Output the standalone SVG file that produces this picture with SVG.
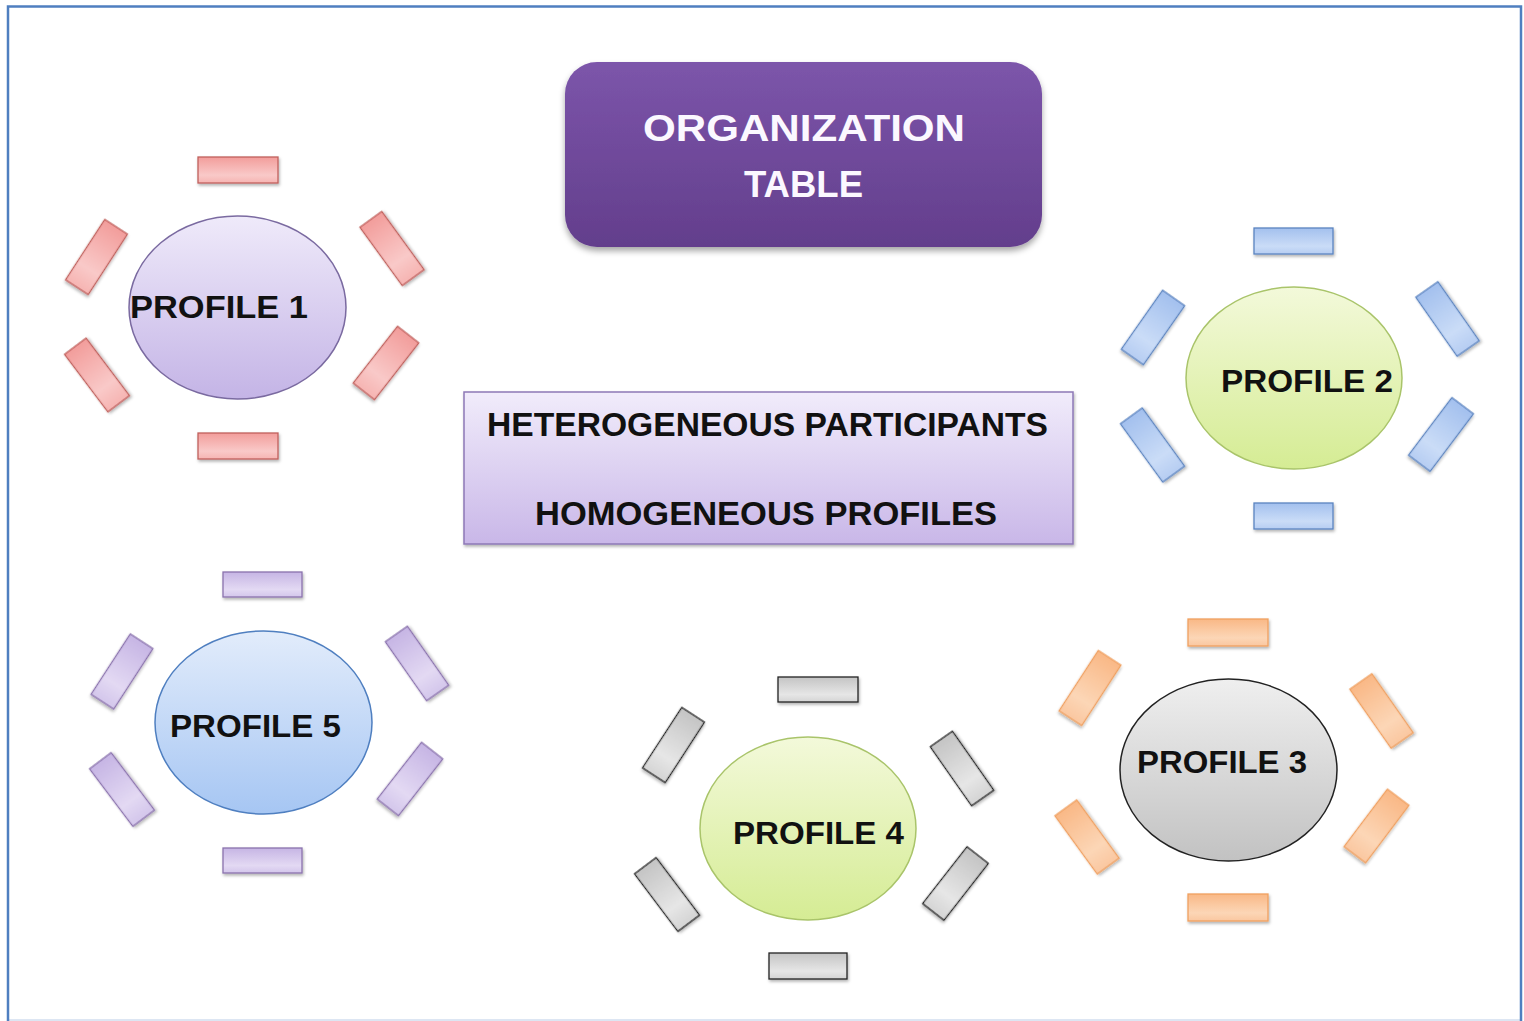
<svg xmlns="http://www.w3.org/2000/svg" width="1524" height="1021" viewBox="0 0 1524 1021">
<defs>
  <linearGradient id="gRed" x1="0" y1="0" x2="0" y2="1"><stop offset="0" stop-color="#f29d9b"/><stop offset="0.7" stop-color="#f9c9c8"/><stop offset="1" stop-color="#f6b4b2"/></linearGradient>
  <linearGradient id="gBlue" x1="0" y1="0" x2="0" y2="1"><stop offset="0" stop-color="#a3c0ee"/><stop offset="0.7" stop-color="#cadcf7"/><stop offset="1" stop-color="#b6cdf2"/></linearGradient>
  <linearGradient id="gPurple" x1="0" y1="0" x2="0" y2="1"><stop offset="0" stop-color="#c6b5e4"/><stop offset="0.7" stop-color="#e3d9f3"/><stop offset="1" stop-color="#d3c6eb"/></linearGradient>
  <linearGradient id="gGrey" x1="0" y1="0" x2="0" y2="1"><stop offset="0" stop-color="#c4c4c4"/><stop offset="0.7" stop-color="#e6e6e6"/><stop offset="1" stop-color="#d4d4d4"/></linearGradient>
  <linearGradient id="gOrange" x1="0" y1="0" x2="0" y2="1"><stop offset="0" stop-color="#f9b886"/><stop offset="0.7" stop-color="#fcd6b6"/><stop offset="1" stop-color="#fac7a0"/></linearGradient>
  <linearGradient id="eLav" x1="0" y1="0" x2="0" y2="1"><stop offset="0" stop-color="#efeafa"/><stop offset="1" stop-color="#c4b4e6"/></linearGradient>
  <linearGradient id="eGreen" x1="0" y1="0" x2="0" y2="1"><stop offset="0" stop-color="#f3f9da"/><stop offset="1" stop-color="#d5ec94"/></linearGradient>
  <linearGradient id="eBlue" x1="0" y1="0" x2="0" y2="1"><stop offset="0" stop-color="#e2ecfb"/><stop offset="1" stop-color="#a6c6f3"/></linearGradient>
  <linearGradient id="eGrey" x1="0" y1="0" x2="0" y2="1"><stop offset="0" stop-color="#efefef"/><stop offset="1" stop-color="#c2c2c2"/></linearGradient>
  <linearGradient id="gTitle" x1="0" y1="0" x2="0" y2="1"><stop offset="0" stop-color="#7c55aa"/><stop offset="1" stop-color="#633e8c"/></linearGradient>
  <linearGradient id="gMid" x1="0" y1="0" x2="0" y2="1"><stop offset="0" stop-color="#f1ecfb"/><stop offset="1" stop-color="#c9b7e8"/></linearGradient>
  <filter id="sh" x="-20%" y="-20%" width="140%" height="150%"><feDropShadow dx="1" dy="2" stdDeviation="1.5" flood-color="#000" flood-opacity="0.3"/></filter>
  <filter id="shBig" x="-10%" y="-10%" width="120%" height="130%"><feDropShadow dx="0" dy="4" stdDeviation="3" flood-color="#000" flood-opacity="0.35"/></filter>
</defs>
<style>
  .seat { stroke-width: 1.3; filter: url(#sh); }
  .red { fill: url(#gRed); stroke: #c0605c; }
  .blue { fill: url(#gBlue); stroke: #5b84c0; }
  .purple { fill: url(#gPurple); stroke: #8a72ad; }
  .grey { fill: url(#gGrey); stroke: #222; }
  .orange { fill: url(#gOrange); stroke: #f0a060; }
  .table { stroke-width: 1.5; }
  .lbl { font-family: "Liberation Sans", Arial, sans-serif; font-weight: bold; font-size: 31px; fill: #111; }
  .title { font-family: "Liberation Sans", Arial, sans-serif; font-weight: bold; font-size: 36px; fill: #fbf8ff; }
  .mid { font-family: "Liberation Sans", Arial, sans-serif; font-weight: bold; font-size: 33px; fill: #111; }
</style>
<rect x="0" y="0" width="1524" height="1021" fill="#ffffff"/>
<g id="frame">
  <line x1="8" y1="1020" x2="1521" y2="1020" stroke="#dde6f3" stroke-width="2"/>
  <path d="M8 1021 V6.5 H1521 V1021" fill="none" stroke="#4f7fc0" stroke-width="2.5"/>
</g>
<g id="connectors"></g>

<g id="title">
  <rect x="565" y="62" width="477" height="185" rx="32" fill="url(#gTitle)" filter="url(#shBig)"/>
  <text class="title" x="643" y="141" textLength="322" lengthAdjust="spacingAndGlyphs">ORGANIZATION</text>
  <text class="title" x="744" y="197" textLength="119" lengthAdjust="spacingAndGlyphs">TABLE</text>
</g>

<g id="center-box">
  <rect x="464" y="392" width="609" height="152" fill="url(#gMid)" stroke="#8d78b6" stroke-width="1.5" filter="url(#sh)"/>
  <text class="mid" x="487" y="436" textLength="561" lengthAdjust="spacingAndGlyphs">HETEROGENEOUS PARTICIPANTS</text>
  <text class="mid" x="535" y="525" textLength="462" lengthAdjust="spacingAndGlyphs">HOMOGENEOUS PROFILES</text>
</g>

<g id="profile1">
  <rect class="seat red" x="198" y="157" width="80" height="26"/>
  <rect class="seat red" x="198" y="433" width="80" height="26"/>
  <rect class="seat red" x="-13.5" y="-36" width="27" height="72" transform="translate(96.5,257) rotate(33)"/>
  <rect class="seat red" x="-13.5" y="-36" width="27" height="72" transform="translate(392,248.5) rotate(-36)"/>
  <rect class="seat red" x="-13.5" y="-36" width="27" height="72" transform="translate(97,375) rotate(-37)"/>
  <rect class="seat red" x="-13.5" y="-36" width="27" height="72" transform="translate(386,363) rotate(38)"/>
  <ellipse class="table" cx="237.5" cy="307.5" rx="108.5" ry="91.5" fill="url(#eLav)" stroke="#7a6aa0"/>
  <text class="lbl" x="130" y="318" textLength="178" lengthAdjust="spacingAndGlyphs">PROFILE 1</text>
</g>

<g id="profile2">
  <rect class="seat blue" x="1254" y="228" width="79" height="26"/>
  <rect class="seat blue" x="1254" y="503" width="79" height="26"/>
  <rect class="seat blue" x="-13.5" y="-36" width="27" height="72" transform="translate(1153,327.5) rotate(35)"/>
  <rect class="seat blue" x="-13.5" y="-36" width="27" height="72" transform="translate(1447.5,319) rotate(-35)"/>
  <rect class="seat blue" x="-13.5" y="-36" width="27" height="72" transform="translate(1152.5,445) rotate(-36)"/>
  <rect class="seat blue" x="-13.5" y="-36" width="27" height="72" transform="translate(1441,434.5) rotate(37)"/>
  <ellipse class="table" cx="1294" cy="378" rx="108" ry="91" fill="url(#eGreen)" stroke="#a9c46a"/>
  <text class="lbl" x="1221" y="392" textLength="172" lengthAdjust="spacingAndGlyphs">PROFILE 2</text>
</g>

<g id="profile3">
  <rect class="seat orange" x="1188" y="619" width="80" height="27"/>
  <rect class="seat orange" x="1188" y="894" width="80" height="27"/>
  <rect class="seat orange" x="-13.5" y="-36" width="27" height="72" transform="translate(1090,688) rotate(33)"/>
  <rect class="seat orange" x="-13.5" y="-36" width="27" height="72" transform="translate(1381.5,711) rotate(-35)"/>
  <rect class="seat orange" x="-13.5" y="-36" width="27" height="72" transform="translate(1087,837) rotate(-36)"/>
  <rect class="seat orange" x="-13.5" y="-36" width="27" height="72" transform="translate(1376.5,826) rotate(37)"/>
  <ellipse class="table" cx="1228.5" cy="770" rx="108.5" ry="91" fill="url(#eGrey)" stroke="#222"/>
  <text class="lbl" x="1137" y="773" textLength="170" lengthAdjust="spacingAndGlyphs">PROFILE 3</text>
</g>

<g id="profile4">
  <rect class="seat grey" x="778" y="677" width="80" height="25"/>
  <rect class="seat grey" x="769" y="953" width="78" height="26"/>
  <rect class="seat grey" x="-13.5" y="-36" width="27" height="72" transform="translate(673.5,745) rotate(33)"/>
  <rect class="seat grey" x="-13.5" y="-36" width="27" height="72" transform="translate(962,768.5) rotate(-35)"/>
  <rect class="seat grey" x="-13.5" y="-36" width="27" height="72" transform="translate(667,894.5) rotate(-37)"/>
  <rect class="seat grey" x="-13.5" y="-36" width="27" height="72" transform="translate(955.5,883.5) rotate(38)"/>
  <ellipse class="table" cx="808" cy="828.5" rx="108" ry="91.5" fill="url(#eGreen)" stroke="#a9c46a"/>
  <text class="lbl" x="733" y="844" textLength="171" lengthAdjust="spacingAndGlyphs">PROFILE 4</text>
</g>

<g id="profile5">
  <rect class="seat purple" x="223" y="572" width="79" height="25"/>
  <rect class="seat purple" x="223" y="848" width="79" height="25"/>
  <rect class="seat purple" x="-13.5" y="-36" width="27" height="72" transform="translate(122,671.5) rotate(33)"/>
  <rect class="seat purple" x="-13.5" y="-36" width="27" height="72" transform="translate(417,663.5) rotate(-35)"/>
  <rect class="seat purple" x="-13.5" y="-36" width="27" height="72" transform="translate(122,789.5) rotate(-37)"/>
  <rect class="seat purple" x="-13.5" y="-36" width="27" height="72" transform="translate(410,779) rotate(38)"/>
  <ellipse class="table" cx="263.5" cy="722.5" rx="108.5" ry="91.5" fill="url(#eBlue)" stroke="#4f7fc0"/>
  <text class="lbl" x="170" y="737" textLength="171" lengthAdjust="spacingAndGlyphs">PROFILE 5</text>
</g>
</svg>
